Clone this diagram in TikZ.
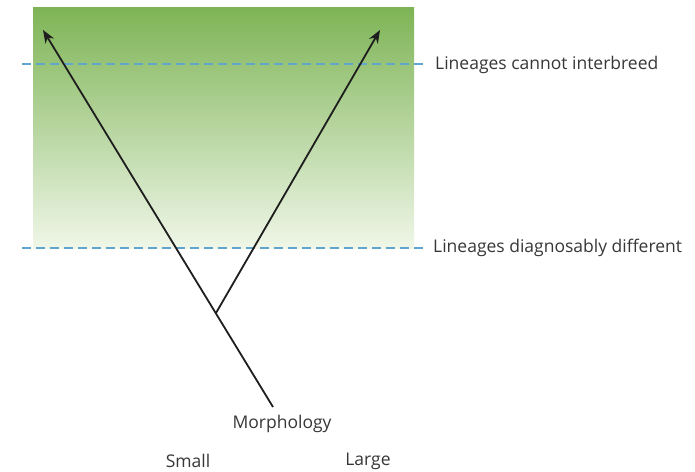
\documentclass[tikz,border=0pt]{standalone}
\usepackage{fontspec}
\setmainfont{Open Sans}
\usepackage{tikz}
\usetikzlibrary{arrows.meta,positioning}
\definecolor{spGreen}  {RGB}{126,180, 86}
\definecolor{spGreenXL}{RGB}{240,247,233}
\definecolor{spBlue}   {RGB}{ 95,165,205}
\definecolor{spInk}    {RGB}{ 30, 30, 30}
\definecolor{spText}   {RGB}{ 55, 55, 55}

\begin{document}
\begin{tikzpicture}[
  x=1pt,y=1pt,
  every node/.style={font=\fontsize{17.5}{20}\selectfont,text=spText,inner sep=0pt},
  level/.style={draw=spBlue,line width=1.3pt,dash pattern=on 9pt off 5pt},
  lineage/.style={draw=spInk,line width=1.8pt,-{Stealth[length=13pt,width=10pt]}},
]
\useasboundingbox (0,0) rectangle (695,471);

% species zone
\shade[top color=spGreen,bottom color=spGreenXL] (33,222) rectangle (414,463);

% thresholds
\node[anchor=west] (NOX) at (435,406) {Lineages cannot interbreed};
\node[anchor=west] (DIA) at (433,223) {Lineages diagnosably different};
\coordinate (NOXa) at (22,407);
\coordinate (DIAa) at (22,223);
\draw[level] (NOXa) -- ([xshift=-10pt]NOX.west |- NOXa);
\draw[level] (DIAa) -- ([xshift=-8pt]DIA.west |- DIAa);

% tree
\coordinate (root)   at (273,64);
\coordinate (split)  at (216,158);
\coordinate (tipL)   at (43,441);
\coordinate (tipR)   at (380,441);
\draw[lineage] (root) -- (tipL);
\draw[lineage] (split) -- (tipR);

% axis
\node (MOR) at (282,47) {Morphology};
\node (SML) at (188,10) {Small};
\node (LRG) at (368,10) {Large};
\end{tikzpicture}
\end{document}
